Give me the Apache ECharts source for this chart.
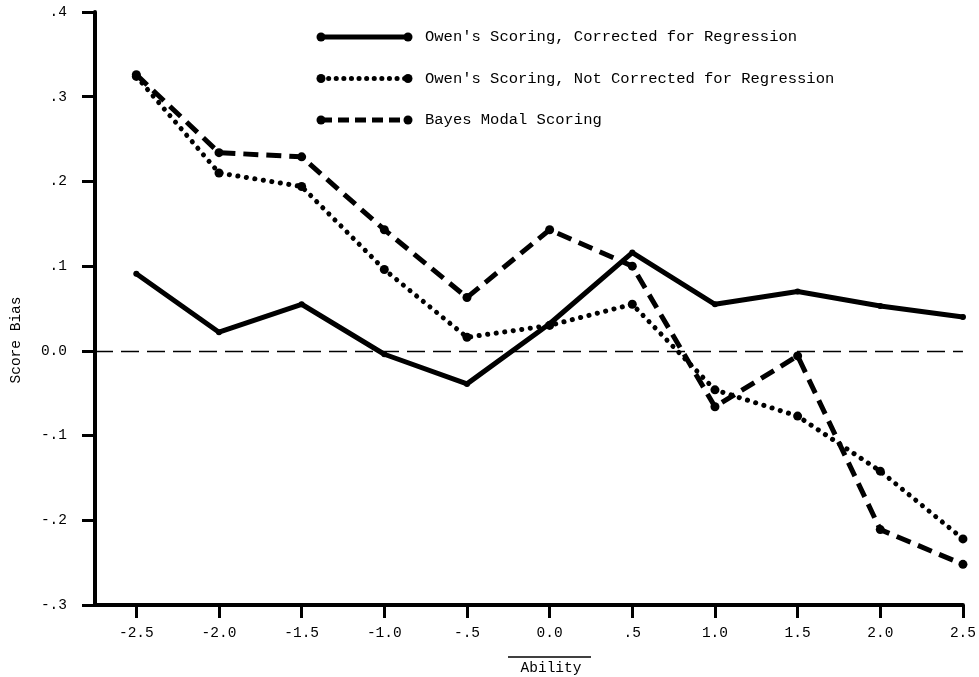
<!DOCTYPE html>
<html>
<head>
<meta charset="utf-8">
<title>Score Bias by Ability</title>
<script src="https://cdn.jsdelivr.net/npm/echarts@6/dist/echarts.min.js"></script>
<style>
  html, body { margin: 0; padding: 0; background: #fff; }
  #chart { width: 979px; height: 677px; }
</style>
</head>
<body>
<div id="chart"></div>
<script>
// Ability levels (x) and score bias for each scoring method (y)
const abilities = [-2.5, -2.0, -1.5, -1.0, -0.5, 0.0, 0.5, 1.0, 1.5, 2.0, 2.5];
const abilityLabels = ['-2.5', '-2.0', '-1.5', '-1.0', '-.5', '0.0', '.5', '1.0', '1.5', '2.0', '2.5'];

const biasTicks = [-0.3, -0.2, -0.1, 0.0, 0.1, 0.2, 0.3, 0.4];
const biasLabels = ['-.3', '-.2', '-.1', '0.0', '.1', '.2', '.3', '.4'];

const seriesNames = [
  "Owen's Scoring, Corrected for Regression",
  "Owen's Scoring, Not Corrected for Regression",
  'Bayes Modal Scoring'
];
const owenCorrected    = [0.091, 0.022, 0.055, -0.004, -0.039, 0.032, 0.116, 0.055, 0.070, 0.053, 0.040];
const owenNotCorrected = [0.324, 0.210, 0.194, 0.096, 0.016, 0.030, 0.055, -0.046, -0.077, -0.142, -0.222];
const bayesModal       = [0.326, 0.234, 0.229, 0.143, 0.063, 0.143, 0.100, -0.066, -0.006, -0.211, -0.252];

const FONT = '"Liberation Mono", "DejaVu Sans Mono", monospace';
const INK = '#000';

// line dash patterns per method: solid, dotted, dashed
const styles = [
  { type: 'solid', width: 5, cap: 'round', symbolSize: 6 },
  { type: [0.1, 8.5], width: 5, cap: 'round', symbolSize: 9 },
  { type: [15, 8], width: 5, cap: 'butt', symbolSize: 9 }
];

const pairs = vals => abilities.map((a, i) => [a, vals[i]]);
const valueSets = [owenCorrected, owenNotCorrected, bayesModal];

const series = valueSets.map((vals, k) => ({
  name: seriesNames[k],
  type: 'line',
  data: pairs(vals),
  symbol: 'circle',
  symbolSize: styles[k].symbolSize,
  showSymbol: true,
  itemStyle: { color: INK },
  lineStyle: { color: INK, width: styles[k].width, type: styles[k].type, cap: styles[k].cap, join: 'round' },
  z: 3 + k,
  animation: false
}));

// zero reference line
series[0].markLine = {
  silent: true,
  symbol: 'none',
  label: { show: false },
  lineStyle: { color: INK, width: 1.4, type: [18, 8] },
  data: [{ yAxis: 0 }],
  animation: false
};

// legend: a sample stroke with round end dots, then the method name
const legendGraphics = [];
seriesNames.forEach((name, k) => {
  const y = 37 + k * 41.5;
  const x0 = 321, x1 = 408;
  legendGraphics.push({
    type: 'line',
    shape: { x1: x0, y1: y, x2: x1, y2: y },
    style: { stroke: INK, lineWidth: 5, lineDash: k === 0 ? null : (k === 1 ? [0.1, 7.5] : [11, 6]), lineCap: k === 1 ? 'round' : 'butt' }
  });
  [x0, x1].forEach(cx => legendGraphics.push({
    type: 'circle', shape: { cx: cx, cy: y, r: 4.5 }, style: { fill: INK }
  }));
  legendGraphics.push({
    type: 'text', x: 425, y: y,
    style: { text: name, font: '15.5px ' + FONT, fill: INK, textVerticalAlign: 'middle' }
  });
});

const chart = echarts.init(document.getElementById('chart'), null, { renderer: 'canvas' });
chart.setOption({
  backgroundColor: '#fff',
  animation: false,
  grid: { left: 95, right: 14, top: 12, bottom: 72, containLabel: false },
  xAxis: {
    type: 'value',
    min: -2.75,
    max: 2.5,
    axisLine: { show: true, onZero: false, lineStyle: { color: INK, width: 4 } },
    axisTick: { show: true, length: 13, customValues: abilities, lineStyle: { color: INK, width: 3 } },
    axisLabel: {
      customValues: abilities,
      margin: 21,
      color: INK,
      fontFamily: FONT,
      fontSize: 14.5,
      formatter: v => abilityLabels[abilities.findIndex(a => Math.abs(a - v) < 1e-6)]
    },
    splitLine: { show: false }
  },
  yAxis: {
    type: 'value',
    min: -0.3,
    max: 0.4,
    axisLine: { show: true, onZero: false, lineStyle: { color: INK, width: 4 } },
    axisTick: { show: true, length: 13, customValues: biasTicks, lineStyle: { color: INK, width: 3 } },
    axisLabel: {
      customValues: biasTicks,
      margin: 28,
      color: INK,
      fontFamily: FONT,
      fontSize: 14.5,
      formatter: v => biasLabels[biasTicks.findIndex(t => Math.abs(t - v) < 1e-6)]
    },
    splitLine: { show: false }
  },
  series: series,
  graphic: [
    ...legendGraphics,
    {
      type: 'text', x: 16, y: 340, rotation: Math.PI / 2,
      style: { text: 'Score Bias', font: '14.5px ' + FONT, fill: INK, textAlign: 'center', textVerticalAlign: 'middle' }
    },
    {
      type: 'text', x: 551, y: 668,
      style: { text: 'Ability', font: '14.5px ' + FONT, fill: INK, textAlign: 'center', textVerticalAlign: 'middle' }
    },
    {
      type: 'line', shape: { x1: 508, y1: 657, x2: 591, y2: 657 },
      style: { stroke: INK, lineWidth: 1.4 }
    }
  ]
});
</script>
</body>
</html>
